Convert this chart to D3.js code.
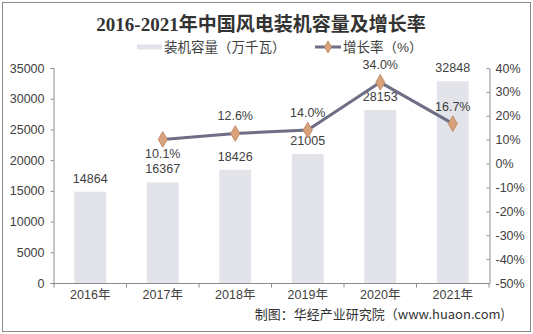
<!DOCTYPE html>
<html><head><meta charset="utf-8">
<script src="https://cdn.jsdelivr.net/npm/d3@7"></script>
<style>body{margin:0;background:#fff}svg{display:block}</style>
</head><body>
<script>
const categories = ["2016年","2017年","2018年","2019年","2020年","2021年"];
const capacity = [14864,16367,18426,21005,28153,32848];
const growth = [null,10.1,12.6,14.0,34.0,16.7];
const leftTicks = [0,5000,10000,15000,20000,25000,30000,35000];
const rightTicks = [-50,-40,-30,-20,-10,0,10,20,30,40];
const title = "2016-2021年中国风电装机容量及增长率";
const legendLabels = ["装机容量（万千瓦）","增长率（%）"];
const source = "制图：华经产业研究院（www.huaon.com)";

const W=533,H=334;
const svg=d3.select("body").append("svg").attr("width",W).attr("height",H);
const font="'Liberation Sans', Arial, 'Noto Sans CJK SC', sans-serif";
const txt="#404040", axisCol="#8c8c8c";
svg.append("rect").attr("x",2.5).attr("y",2.5).attr("width",528).attr("height",329)
  .attr("fill","#fff").attr("stroke","#8a8a8a").attr("stroke-width",1);

const x=d3.scaleBand().domain(categories).range([54,489]).paddingInner(0.56).paddingOuter(0.28);
const yL=d3.scaleLinear().domain([0,35000]).range([283,68]);
const yR=d3.scaleLinear().domain([-50,40]).range([283,68]);

// title
svg.append("text").attr("x",261).attr("y",31).attr("text-anchor","middle")
  .attr("font-family","'Liberation Serif','Noto Sans CJK SC',serif").attr("font-weight","bold")
  .attr("font-size",19).attr("fill","#333").text(title);

// legend
const lg=svg.append("g").attr("font-family",font).attr("font-size",13.5).attr("fill",txt);
lg.append("line").attr("x1",137).attr("x2",162).attr("y1",47).attr("y2",47).attr("stroke","#e2e4e9").attr("stroke-width",5);
lg.append("text").attr("x",164).attr("y",52).text(legendLabels[0]);
lg.append("line").attr("x1",315).attr("x2",341).attr("y1",47).attr("y2",47).attr("stroke","#6e6e86").attr("stroke-width",3);
lg.append("path").attr("d",d3.symbol(d3.symbolDiamond,40)()).attr("transform","translate(328,47)")
  .attr("fill","#d7a27c").attr("stroke","#c58d68");
lg.append("text").attr("x",343).attr("y",52).text(legendLabels[1]);

// bars
svg.append("g").selectAll("rect").data(capacity).join("rect")
  .attr("x",(d,i)=>x(categories[i])).attr("width",x.bandwidth())
  .attr("y",d=>yL(d)).attr("height",d=>283-yL(d)).attr("fill","#e2e4e9");

// axes
const axL=svg.append("g").attr("transform","translate(53.5,0)")
  .call(d3.axisLeft(yL).tickValues(leftTicks).tickSize(3).tickPadding(6).tickFormat(d3.format("d")));
const axR=svg.append("g").attr("transform","translate(489.5,0)")
  .call(d3.axisRight(yR).tickValues(rightTicks).tickSizeInner(-3).tickSizeOuter(0).tickPadding(6).tickFormat(d=>d+"%"));
const axB=svg.append("g").attr("transform","translate(0,283.5)")
  .call(d3.axisBottom(x).tickSize(0).tickPadding(7));
[axL,axR,axB].forEach(a=>{
  a.selectAll("path,line").attr("stroke",axisCol);
  a.selectAll("text").attr("fill",txt).attr("font-family",font).attr("font-size",12.5);
});
axB.select(".domain").attr("d","M53.5,0H489.5");
// category boundary ticks
axB.append("g").selectAll("line").data(d3.range(categories.length+1)).join("line")
  .attr("x1",i=>54+i*(435/6)).attr("x2",i=>54+i*(435/6)).attr("y1",0).attr("y2",4).attr("stroke",axisCol);

// bar labels
svg.append("g").selectAll("text").data(capacity).join("text")
  .attr("x",(d,i)=>x(categories[i])+x.bandwidth()/2).attr("y",d=>yL(d)-9)
  .attr("text-anchor","middle").attr("font-family",font).attr("font-size",12.5).attr("fill",txt).text(d=>d);

// line
const pts=growth.map((g,i)=>({g,i})).filter(d=>d.g!==null);
const cx=d=>x(categories[d.i])+x.bandwidth()/2;
svg.append("path").datum(pts).attr("fill","none").attr("stroke","#6e6e86").attr("stroke-width",3)
  .attr("d",d3.line().x(cx).y(d=>yR(d.g)));
svg.append("g").selectAll("path").data(pts).join("path")
  .attr("d",d3.symbol(d3.symbolDiamond,70)()).attr("transform",d=>`translate(${cx(d)},${yR(d.g)})`)
  .attr("fill","#d7a27c").attr("stroke","#c58d68");
svg.append("g").selectAll("text").data(pts).join("text")
  .attr("x",cx).attr("y",d=>d.i===1?yR(d.g)+19:yR(d.g)-13)
  .attr("text-anchor","middle").attr("font-family",font).attr("font-size",12.5).attr("fill",txt)
  .text(d=>d.g.toFixed(1)+"%");

// source
svg.append("text").attr("x",505).attr("y",319).attr("text-anchor","end")
  .attr("font-family","'Noto Sans CJK SC','Liberation Sans',sans-serif").attr("font-size",13).attr("fill","#333").text(source);
</script>
</body></html>
